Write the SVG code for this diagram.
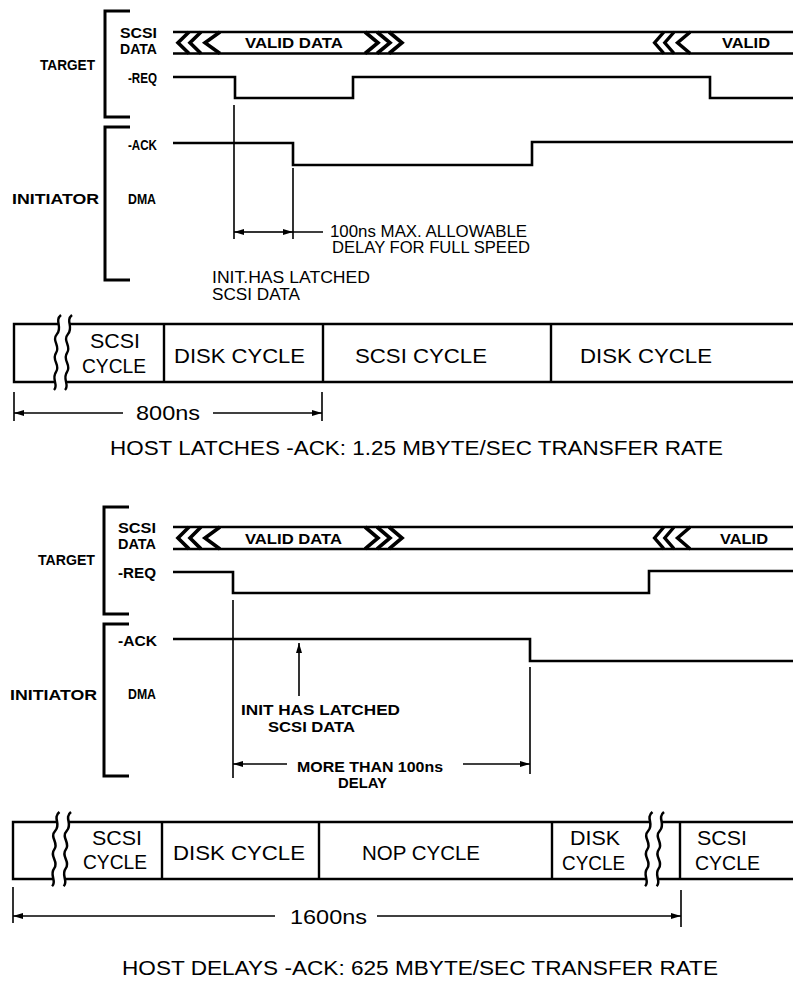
<svg xmlns="http://www.w3.org/2000/svg" xmlns:xlink="http://www.w3.org/1999/xlink" width="793" height="981" viewBox="0 0 793 981">
<style>
.bg{fill:#fff}
.sig{fill:none;stroke:#000;stroke-width:2.6;stroke-linejoin:miter}
.brk{fill:none;stroke:#000;stroke-width:3}
.bus{fill:none;stroke:#000;stroke-width:2.6}
.chev{fill:none;stroke:#000;stroke-width:3.6;stroke-linejoin:miter}
.dim{fill:none;stroke:#000;stroke-width:1.6}
.bar{fill:none;stroke:#000;stroke-width:2.4}
.lb{font-family:"Liberation Sans",Arial,sans-serif;font-weight:bold;font-size:15px;fill:#000}
.lbs{font-family:"Liberation Sans",Arial,sans-serif;font-weight:bold;font-size:14px;fill:#000}
.nt{font-family:"Liberation Sans",Arial,sans-serif;font-size:16px;fill:#000}
.cy{font-family:"Liberation Sans",Arial,sans-serif;font-size:21px;fill:#000}
.ti{font-family:"Liberation Sans",Arial,sans-serif;font-size:20px;fill:#000}
.sq{fill:none;stroke:#000;stroke-width:2.4}
</style>
<defs>
<marker id="ah" viewBox="0 0 10 6" refX="10" refY="3" markerWidth="10" markerHeight="6" markerUnits="userSpaceOnUse" orient="auto"><path d="M0,0 L10,3 L0,6 z" fill="#000"/></marker>
<g id="chevL">
<path class="chev" d="M14,0 L3,10.75 L14,21.5 M26,0 L15,10.75 L26,21.5 M45,0 L30,10.75 L45,21.5"/>
</g>
<g id="chevR">
<path class="chev" d="M0,0 L13,10.75 L0,21.5 M12,0 L25,10.75 L12,21.5 M24,0 L37,10.75 L24,21.5"/>
</g>
<g id="squig">
<path d="M9,0 C2,6 11,12 5,19 C-1,26 9,31 4,38 C-1,45 9,50 4,57 C-1,64 7,70 2,75 L13,75 C18,70 10,64 15,57 C20,50 10,45 15,38 C20,31 10,26 16,19 C22,12 13,6 20,0 Z" fill="#fff" stroke="none"/>
<path class="sq" d="M9,0 C2,6 11,12 5,19 C-1,26 9,31 4,38 C-1,45 9,50 4,57 C-1,64 7,70 2,75"/>
<path class="sq" d="M20,0 C13,6 22,12 16,19 C10,26 20,31 15,38 C10,45 20,50 15,57 C10,64 18,70 13,75"/>
</g>
</defs>
<rect class="bg" x="0" y="0" width="793" height="981"/>

<!-- ================= TOP: HOST LATCHES ================= -->
<g id="top-target">
<path class="brk" d="M130,11 H105 V117 H130"/>
<text class="lb" x="40" y="70" textLength="55" lengthAdjust="spacingAndGlyphs">TARGET</text>
<text class="lbs" x="120" y="37.5" textLength="37" lengthAdjust="spacingAndGlyphs">SCSI</text>
<text class="lbs" x="120" y="53.5" textLength="37" lengthAdjust="spacingAndGlyphs">DATA</text>
<text class="lb" x="128" y="83" textLength="29" lengthAdjust="spacingAndGlyphs">-REQ</text>
</g>
<g id="top-bus">
<path class="bus" d="M173,32 H793 M173,53.5 H793"/>
<use xlink:href="#chevL" transform="translate(175,32)"/>
<use xlink:href="#chevR" transform="translate(365,32)"/>
<use xlink:href="#chevL" transform="translate(652,32) scale(0.85,1)"/>
<text class="lb" x="245" y="48" textLength="98" lengthAdjust="spacingAndGlyphs">VALID DATA</text>
<text class="lb" x="722" y="48" textLength="48" lengthAdjust="spacingAndGlyphs">VALID</text>
</g>
<g id="top-req">
<path class="sig" d="M173,77 H235 V98 H353 V77 H710 V98 H793"/>
</g>
<g id="top-initiator">
<path class="brk" d="M130,127 H105 V280 H130"/>
<text class="lb" x="12" y="204" textLength="87" lengthAdjust="spacingAndGlyphs">INITIATOR</text>
<text class="lb" x="128" y="150" textLength="29" lengthAdjust="spacingAndGlyphs">-ACK</text>
<text class="lb" x="128" y="204" textLength="28" lengthAdjust="spacingAndGlyphs">DMA</text>
</g>
<g id="top-ack">
<path class="sig" d="M173,143 H293 V165 H532 V142 H793"/>
</g>
<g id="top-connectors">
<path class="dim" d="M234,105 V239 M293,168 V239 M293,232 H323"/>
<line class="dim" x1="262" y1="232" x2="234" y2="232" marker-end="url(#ah)"/>
<line class="dim" x1="262" y1="232" x2="293" y2="232" marker-end="url(#ah)"/>
</g>
<g id="top-notes">
<text class="nt" x="330" y="237" textLength="197" lengthAdjust="spacingAndGlyphs">100ns MAX. ALLOWABLE</text>
<text class="nt" x="332" y="253" textLength="198" lengthAdjust="spacingAndGlyphs">DELAY FOR FULL SPEED</text>
<text class="nt" x="212" y="283" textLength="158" lengthAdjust="spacingAndGlyphs">INIT.HAS LATCHED</text>
<text class="nt" x="212" y="300" textLength="88" lengthAdjust="spacingAndGlyphs">SCSI DATA</text>
</g>
<g id="top-cycles">
<path class="bar" d="M793,324 H14 V382 H793 M164,324 V382 M323,324 V382 M551,324 V382"/>
<use xlink:href="#squig" transform="translate(52,315)"/>
<text class="cy" x="90" y="348" textLength="50" lengthAdjust="spacingAndGlyphs">SCSI</text>
<text class="cy" x="82" y="373" textLength="64" lengthAdjust="spacingAndGlyphs">CYCLE</text>
<text class="cy" x="174" y="363" textLength="131" lengthAdjust="spacingAndGlyphs">DISK CYCLE</text>
<text class="cy" x="355" y="363" textLength="132" lengthAdjust="spacingAndGlyphs">SCSI CYCLE</text>
<text class="cy" x="580" y="363" textLength="132" lengthAdjust="spacingAndGlyphs">DISK CYCLE</text>
</g>
<g id="top-period">
<path class="dim" d="M14,392 V421 M322,392 V421"/>
<line class="dim" x1="123" y1="413" x2="14" y2="413" marker-end="url(#ah)"/>
<line class="dim" x1="213" y1="413" x2="322" y2="413" marker-end="url(#ah)"/>
<text class="cy" x="136" y="420" textLength="64" lengthAdjust="spacingAndGlyphs">800ns</text>
</g>
<text id="top-title" class="ti" x="110" y="455" textLength="613" lengthAdjust="spacingAndGlyphs">HOST LATCHES -ACK:  1.25 MBYTE/SEC TRANSFER RATE</text>

<!-- ================= BOTTOM: HOST DELAYS ================= -->
<g id="bot-target">
<path class="brk" d="M129,507 H104 V614 H129"/>
<text class="lb" x="38" y="565" textLength="57" lengthAdjust="spacingAndGlyphs">TARGET</text>
<text class="lbs" x="118" y="533" textLength="38" lengthAdjust="spacingAndGlyphs">SCSI</text>
<text class="lbs" x="118" y="549" textLength="38" lengthAdjust="spacingAndGlyphs">DATA</text>
<text class="lb" x="118" y="578" textLength="38" lengthAdjust="spacingAndGlyphs">-REQ</text>
</g>
<g id="bot-bus">
<path class="bus" d="M173,527 H793 M173,549 H793"/>
<use xlink:href="#chevL" transform="translate(175,527) scale(1,1.02)"/>
<use xlink:href="#chevR" transform="translate(365,527) scale(1,1.02)"/>
<use xlink:href="#chevL" transform="translate(652,527) scale(0.85,1.02)"/>
<text class="lb" x="245" y="544" textLength="97" lengthAdjust="spacingAndGlyphs">VALID DATA</text>
<text class="lb" x="720" y="544" textLength="48" lengthAdjust="spacingAndGlyphs">VALID</text>
</g>
<g id="bot-req">
<path class="sig" d="M173,572 H233 V593 H649 V571 H793"/>
</g>
<g id="bot-initiator">
<path class="brk" d="M129,624 H104 V776 H129"/>
<text class="lb" x="10" y="700" textLength="87" lengthAdjust="spacingAndGlyphs">INITIATOR</text>
<text class="lb" x="118" y="646" textLength="39" lengthAdjust="spacingAndGlyphs">-ACK</text>
<text class="lb" x="128" y="699" textLength="28" lengthAdjust="spacingAndGlyphs">DMA</text>
</g>
<g id="bot-ack">
<path class="sig" d="M173,639 H530 V661 H793"/>
</g>
<g id="bot-connectors">
<path class="dim" d="M233,600 V778 M530,667 V774"/>
<line class="dim" x1="299" y1="696" x2="299" y2="643" marker-end="url(#ah)"/>
<line class="dim" x1="287" y1="764" x2="233" y2="764" marker-end="url(#ah)"/>
<line class="dim" x1="463" y1="764" x2="530" y2="764" marker-end="url(#ah)"/>
</g>
<g id="bot-notes">
<text class="lb" x="241" y="715" textLength="159" lengthAdjust="spacingAndGlyphs">INIT HAS LATCHED</text>
<text class="lb" x="268" y="732" textLength="87" lengthAdjust="spacingAndGlyphs">SCSI DATA</text>
<text class="lb" x="297" y="772" textLength="146" lengthAdjust="spacingAndGlyphs">MORE THAN 100ns</text>
<text class="lb" x="338" y="788" textLength="49" lengthAdjust="spacingAndGlyphs">DELAY</text>
</g>
<g id="bot-cycles">
<path class="bar" d="M793,822 H13 V879 H793 M162,822 V879 M319,822 V879 M552,822 V879 M680,822 V879"/>
<use xlink:href="#squig" transform="translate(50,812) scale(1.05,0.99)"/>
<use xlink:href="#squig" transform="translate(643,812) scale(1.05,0.99)"/>
<text class="cy" x="92" y="845" textLength="50" lengthAdjust="spacingAndGlyphs">SCSI</text>
<text class="cy" x="83" y="869" textLength="64" lengthAdjust="spacingAndGlyphs">CYCLE</text>
<text class="cy" x="173" y="860" textLength="132" lengthAdjust="spacingAndGlyphs">DISK CYCLE</text>
<text class="cy" x="362" y="860" textLength="118" lengthAdjust="spacingAndGlyphs">NOP CYCLE</text>
<text class="cy" x="570" y="845" textLength="50" lengthAdjust="spacingAndGlyphs">DISK</text>
<text class="cy" x="562" y="870" textLength="63" lengthAdjust="spacingAndGlyphs">CYCLE</text>
<text class="cy" x="697" y="845" textLength="50" lengthAdjust="spacingAndGlyphs">SCSI</text>
<text class="cy" x="695" y="870" textLength="65" lengthAdjust="spacingAndGlyphs">CYCLE</text>
</g>
<g id="bot-period">
<path class="dim" d="M13,887 V923 M681,890 V927"/>
<line class="dim" x1="275" y1="916" x2="13" y2="916" marker-end="url(#ah)"/>
<line class="dim" x1="377" y1="916" x2="681" y2="916" marker-end="url(#ah)"/>
<text class="cy" x="290" y="924" textLength="77" lengthAdjust="spacingAndGlyphs">1600ns</text>
</g>
<text id="bot-title" class="ti" x="122" y="975" textLength="596" lengthAdjust="spacingAndGlyphs">HOST DELAYS -ACK:  625 MBYTE/SEC TRANSFER RATE</text>
</svg>
